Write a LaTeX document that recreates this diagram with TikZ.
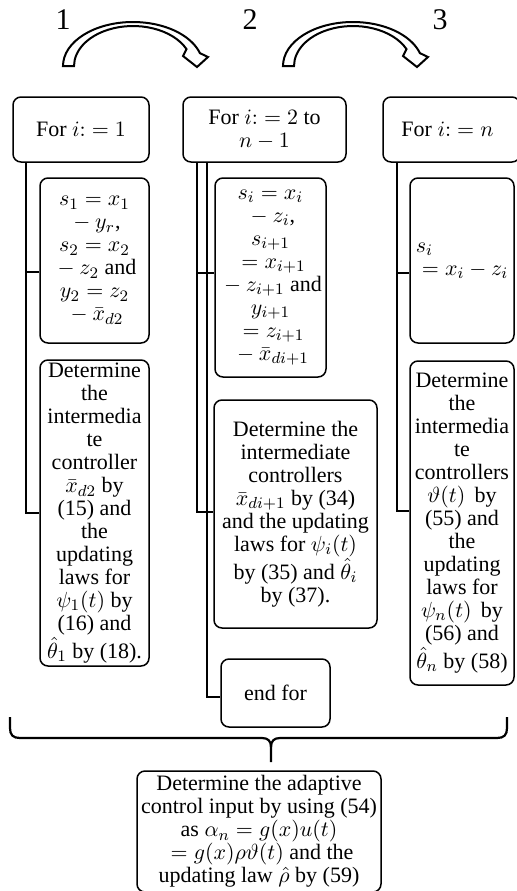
\documentclass[tikz,border=0pt]{standalone}
\usepackage{fontspec}
\setmainfont{Liberation Serif}
\begin{document}
\begin{tikzpicture}[x=0.5pt,y=-0.5pt]
\tikzset{
  box/.style={draw, line width=0.75pt, rounded corners=4pt, align=center, inner sep=0pt,
    font=\fontsize{11}{11.5}\selectfont},
  conn/.style={line width=1pt},
  num/.style={inner sep=0pt, font=\fontsize{15}{15}\selectfont},
  bigarrow/.style={draw, line width=1pt, line join=miter, fill=white},
  bracestyle/.style={line width=1.1pt},
}
\useasboundingbox (0,0) rectangle (516,891);

% step numbers
\node[num] (n1) at (63,20) {1};
\node[num] (n2) at (250,20) {2};
\node[num] (n3) at (440,20) {3};

% hollow curved arrows
\foreach \dx in {0,220}{
  \begin{scope}[xshift=\dx*0.5pt]
  \draw[bigarrow] (63,66) arc[start angle=180, end angle=17, x radius=35pt, y radius=22pt]
     -- (208,57) -- (197,67) -- (183,56) -- (186.5,49.1)
     arc[start angle=25, end angle=180, x radius=29.5pt, y radius=20pt] -- cycle;
  \end{scope}
}

% header boxes
\node[box, minimum width=68pt, minimum height=32.5pt] (b1) at (81,129.5) {For $i{:}=1$};
\node[box, minimum width=81.5pt, minimum height=32.5pt] (b2) at (264.5,129.5) {For $i{:}=2$ to\\$n-1$};
\node[box, minimum width=68.5pt, minimum height=32.5pt] (b3) at (451.5,129.5) {For $i{:}=n$\hspace*{4pt}};

% column 1
\node[box, minimum width=54.5pt, minimum height=82.5pt] (s1) at (94.5,260.5)
  {$s_1=x_1$\\${}-y_r$,\\$s_2=x_2$\\${}-z_2$ and\\$y_2=z_2$\\${}-\bar{x}_{d2}$};
\node[box, minimum width=54.5pt, minimum height=153pt] (d1) at (94.5,513)
  {Determine\\the\\intermedia\\te\\controller\\$\bar{x}_{d2}$ by\\(15) and\\the\\updating\\laws for\\$\psi_1(t)$ by\\(16) and\\$\hat{\theta}_1$ by (18).};

% column 2
\node[box, minimum width=55.5pt, minimum height=99.5pt] (s2) at (270.5,277.5)
  {$s_i=x_i$\\${}-z_i$,\\$s_{i+1}$\\${}=x_{i+1}$\\${}-z_{i+1}$ and\\$y_{i+1}$\\${}=z_{i+1}$\\${}-\bar{x}_{di+1}$};
\node[box, minimum width=81.5pt, minimum height=114pt] (d2) at (295.5,514)
  {Determine the\\intermediate\\controllers\\$\bar{x}_{di+1}$ by (34)\\and the updating\\laws for $\psi_i(t)$\\by (35) and $\hat{\theta}_i$\\by (37).};
\node[box, minimum width=54.5pt, minimum height=34pt] (e2) at (275.5,693) {end for};

% column 3
\node[box, minimum width=52pt, minimum height=82.5pt, align=left] (s3) at (462,260.5)
  {$s_i$\\${}=x_i-z_i$};
\node[box, minimum width=52pt, minimum height=162pt] (d3) at (462,523)
  {Determine\\the\\intermedia\\te\\controllers\\$\vartheta(t)$\, by\\(55) and\\the\\updating\\laws for\\$\psi_n(t)$\, by\\(56) and\\$\hat{\theta}_n$ by (58)};

% final box
\node[box, minimum width=122pt, minimum height=60.5pt] (fb) at (259,831.5)
  {Determine the adaptive\\control input by using (54)\\as $\alpha_n=g(x)u(t)$\\${}=g(x)\rho\vartheta(t)$ and the\\updating law $\hat{\rho}$ by (59)};

% connectors
\draw[conn] ([xshift=7pt]b1.south west) |- ([yshift=-5.75pt]s1.west);
\draw[conn] ([xshift=7pt]b1.south west) |- (d1.west);

\draw[conn] ([xshift=7.5pt]b2.south west) |- ([yshift=2.25pt]s2.west);
\draw[conn] ([xshift=7.5pt]b2.south west) |- ([yshift=1pt]d2.west);
\draw[conn] ([xshift=12.5pt]b2.south west) |- ([yshift=-2pt]e2.west);

\draw[conn] ([xshift=7.5pt]b3.south west) |- ([yshift=-6.25pt]s3.west);
\draw[conn] ([xshift=7.5pt]b3.south west) |- ([yshift=6pt]d3.west);

% brace
\coordinate (stem) at (271,762);
\draw[bracestyle] (10,717) -- (10,728) .. controls (10,735) and (13,738) .. (20,738)
   -- (262,738) .. controls (268,738) and (271,741) .. (271,747) -- (stem);
\draw[bracestyle] (271,747) .. controls (271,741) and (274,738) .. (280,738)
   -- (497,738) .. controls (504,738) and (507,735) .. (507,728) -- (507,717);
\end{tikzpicture}
\end{document}
